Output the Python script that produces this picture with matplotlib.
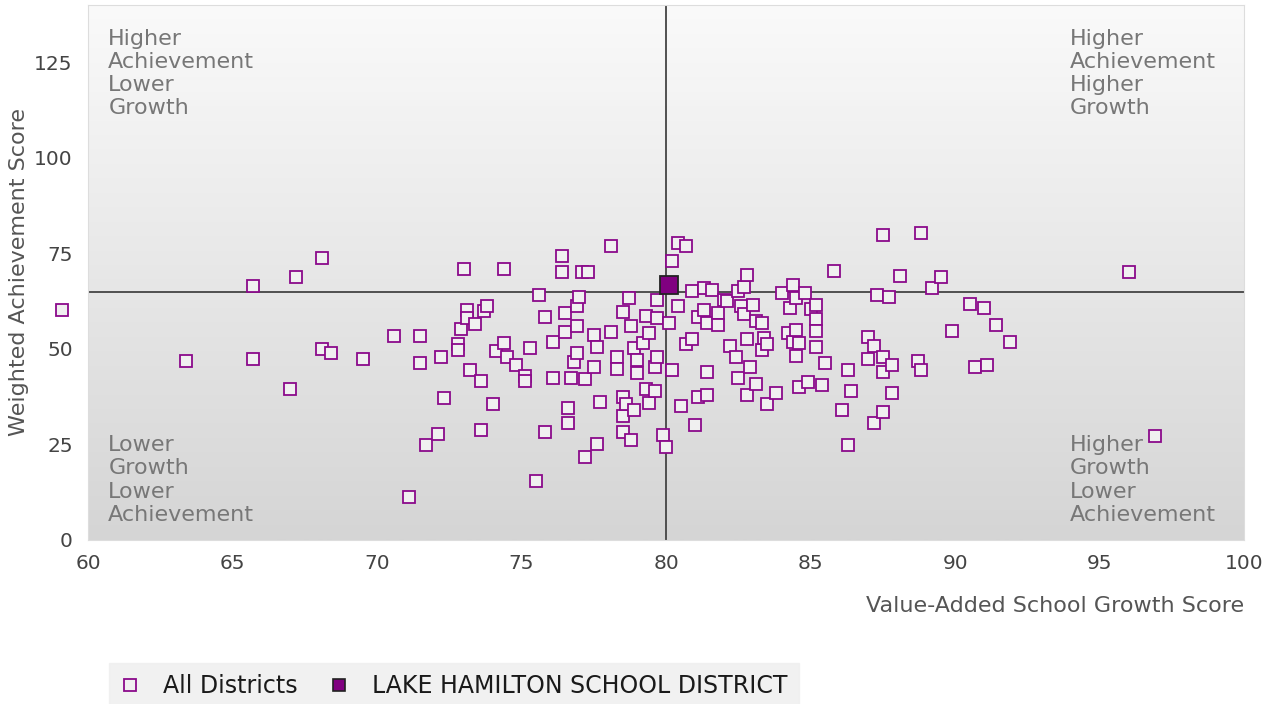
import numpy as np
import matplotlib
matplotlib.use("Agg")
import matplotlib.pyplot as plt
from matplotlib.lines import Line2D

plt.rcParams['font.family'] = ['DejaVu Sans']

# value-added growth score / weighted achievement score
growth = [
    59.1, 63.4, 65.7, 65.7, 67.2, 67.0, 68.1, 68.1, 68.4, 69.5,
    70.6, 71.1, 71.5, 71.5, 71.7, 72.1, 72.2, 72.3, 72.8, 72.8,
    72.9, 73.0, 73.1, 73.1, 73.2, 73.4, 73.6, 73.6, 73.7, 73.8,
    74.0, 74.1, 74.4, 74.4, 74.5, 74.8, 75.1, 75.1, 75.3, 75.5,
    75.6, 75.8, 75.8, 76.1, 76.1, 76.4, 76.4, 76.5, 76.5, 76.6,
    76.6, 76.7, 76.8, 76.9, 76.9, 76.9, 77.0, 77.1, 77.3, 77.2,
    77.2, 77.5, 77.5, 77.6, 77.6, 77.7, 78.1, 78.1, 78.3, 78.3,
    78.5, 78.5, 78.5, 78.5, 78.6, 78.7, 78.8, 78.8, 78.9, 78.9,
    79.0, 79.0, 79.2, 79.3, 79.3, 79.4, 79.4, 79.6, 79.6, 79.7,
    79.7, 79.7, 79.9, 80.0, 80.1, 80.2, 80.2, 80.4, 80.4, 80.5,
    80.7, 80.7, 80.9, 80.9, 81.0, 81.1, 81.1, 81.3, 81.3, 81.4,
    81.4, 81.4, 81.6, 81.8, 81.8, 82.0, 82.1, 82.2, 82.4, 82.5,
    82.5, 82.6, 82.7, 82.7, 82.8, 82.8, 82.8, 82.9, 83.0, 83.1,
    83.1, 83.3, 83.3, 83.4, 83.5, 83.5, 83.8, 84.0, 84.2, 84.3,
    84.4, 84.4, 84.5, 84.5, 84.5, 84.6, 84.6, 84.8, 84.9, 85.0,
    85.2, 85.2, 85.2, 85.2, 85.4, 85.5, 85.8, 86.1, 86.3, 86.3,
    86.4, 87.0, 87.0, 87.2, 87.2, 87.3, 87.5, 87.5, 87.5, 87.5,
    87.7, 87.8, 87.8, 88.1, 88.7, 88.8, 88.8, 89.2, 89.5, 89.9,
    90.5, 90.7, 91.0, 91.1, 91.4, 91.9, 96.0, 96.9,
]
achievement = [
    60.3, 46.8, 66.5, 47.4, 68.8, 39.6, 73.8, 50.0, 49.0, 47.4,
    53.5, 11.2, 53.5, 46.3, 24.9, 27.8, 48.0, 37.2, 51.4, 49.8,
    55.2, 71.0, 60.3, 58.2, 44.5, 56.4, 41.7, 28.8, 60.0, 61.3,
    35.6, 49.5, 71.0, 51.6, 48.0, 45.9, 43.0, 41.7, 50.3, 15.5,
    64.2, 58.4, 28.3, 51.9, 42.5, 74.4, 70.2, 59.5, 54.5, 34.6,
    30.7, 42.5, 46.6, 61.3, 56.1, 49.0, 63.7, 70.2, 70.0, 42.2,
    21.8, 53.7, 45.3, 50.6, 25.2, 36.2, 77.0, 54.5, 48.0, 44.8,
    59.7, 37.5, 32.5, 28.3, 35.6, 63.2, 56.1, 26.2, 50.3, 34.1,
    47.2, 43.8, 51.6, 58.7, 39.6, 54.2, 35.9, 45.3, 39.0, 62.9,
    58.2, 48.0, 27.5, 24.4, 56.9, 73.1, 44.5, 77.8, 61.3, 35.1,
    76.8, 51.4, 65.2, 52.7, 30.1, 58.4, 37.5, 66.0, 60.3, 56.9,
    44.0, 38.0, 65.5, 59.5, 56.3, 62.9, 62.4, 50.8, 48.0, 65.2,
    42.5, 61.1, 66.3, 59.2, 69.4, 52.7, 38.0, 45.3, 61.6, 57.4,
    40.9, 56.9, 49.8, 52.9, 51.4, 35.6, 38.5, 64.7, 54.2, 60.8,
    66.6, 51.9, 63.4, 55.0, 48.2, 51.6, 40.1, 64.7, 41.4, 60.5,
    61.6, 57.7, 54.8, 50.6, 40.6, 46.4, 70.5, 34.1, 44.5, 24.9,
    39.0, 53.2, 47.4, 50.8, 30.7, 64.2, 79.9, 48.0, 44.0, 33.5,
    63.7, 45.9, 38.5, 69.2, 46.9, 80.4, 44.5, 65.8, 68.7, 54.8,
    61.8, 45.3, 60.8, 45.9, 56.3, 51.9, 70.2, 27.3,
]

district_name = "LAKE HAMILTON SCHOOL DISTRICT"
district_growth = 80.1
district_achievement = 66.6

ref_growth = 80.0
ref_achievement = 65.0

quadrant_labels = [
    (60.7, 133.8, "Higher\nAchievement\nLower\nGrowth"),
    (93.95, 133.8, "Higher\nAchievement\nHigher\nGrowth"),
    (60.7, 27.4, "Lower\nGrowth\nLower\nAchievement"),
    (93.95, 27.4, "Higher\nGrowth\nLower\nAchievement"),
]

purple = "#8b0a8b"

fig = plt.figure(figsize=(12.72, 7.04), dpi=100)
ax = fig.add_axes([0.0692, 0.233, 0.909, 0.760])

# vertical gradient background
grad = np.linspace(0, 1, 256).reshape(-1, 1)
ax.imshow(grad, extent=[60, 100, 0, 140], aspect="auto", origin="upper",
          cmap=matplotlib.colors.LinearSegmentedColormap.from_list(
              "bg", ["#fafafa", "#d5d5d5"]), zorder=0)

ax.axvline(ref_growth, color="#444444", lw=1.3, zorder=2)
ax.axhline(ref_achievement, color="#444444", lw=1.3, zorder=2)

ax.plot(growth, achievement, linestyle="none", marker="s", markersize=8.5,
        markerfacecolor="#f0f0f0", markeredgecolor=purple, markeredgewidth=1.3,
        zorder=3, clip_on=False)
ax.plot([district_growth], [district_achievement], linestyle="none", marker="s",
        markersize=13, markerfacecolor="#800080", markeredgecolor="#222222",
        markeredgewidth=1.3, zorder=4)

for qx, qy, txt in quadrant_labels:
    ax.text(qx, qy, txt, color="#777777", fontsize=16, va="top", ha="left",
            linespacing=1.2, zorder=5)

ax.set_xlim(60, 100)
ax.set_ylim(0, 140)
ax.set_xticks(range(60, 101, 5))
ax.set_yticks(range(0, 126, 25))
ax.tick_params(length=0, labelsize=14.5, labelcolor="#444444")
ax.tick_params(axis="y", pad=11)
ax.tick_params(axis="x", pad=10)
for s in ax.spines.values():
    s.set_color("#dddddd")

ax.set_ylabel("Weighted Achievement Score", fontsize=16, color="#555555", labelpad=4)
ax.set_xlabel("Value-Added School Growth Score", fontsize=16, color="#555555",
              loc="right", labelpad=17)

handles = [
    Line2D([], [], linestyle="none", marker="s", markersize=8,
           markerfacecolor="#f0f0f0", markeredgecolor=purple, markeredgewidth=1.3),
    Line2D([], [], linestyle="none", marker="s", markersize=8.5,
           markerfacecolor="#800080", markeredgecolor="#222222", markeredgewidth=1.2),
]
leg = fig.legend(handles, ["All Districts", district_name], loc="lower left",
                 bbox_to_anchor=(0.086, -0.008), ncol=2, frameon=True,
                 fancybox=False, prop={"size": 17},
                 handlelength=0.8, handletextpad=1.0, columnspacing=1.35,
                 borderpad=0.48, borderaxespad=0.0)
leg.get_frame().set_facecolor("#eeeeee")
leg.get_frame().set_edgecolor("#eeeeee")
for t in leg.get_texts():
    t.set_color("#1a1a1a")

fig.savefig("out.png", dpi=100)
